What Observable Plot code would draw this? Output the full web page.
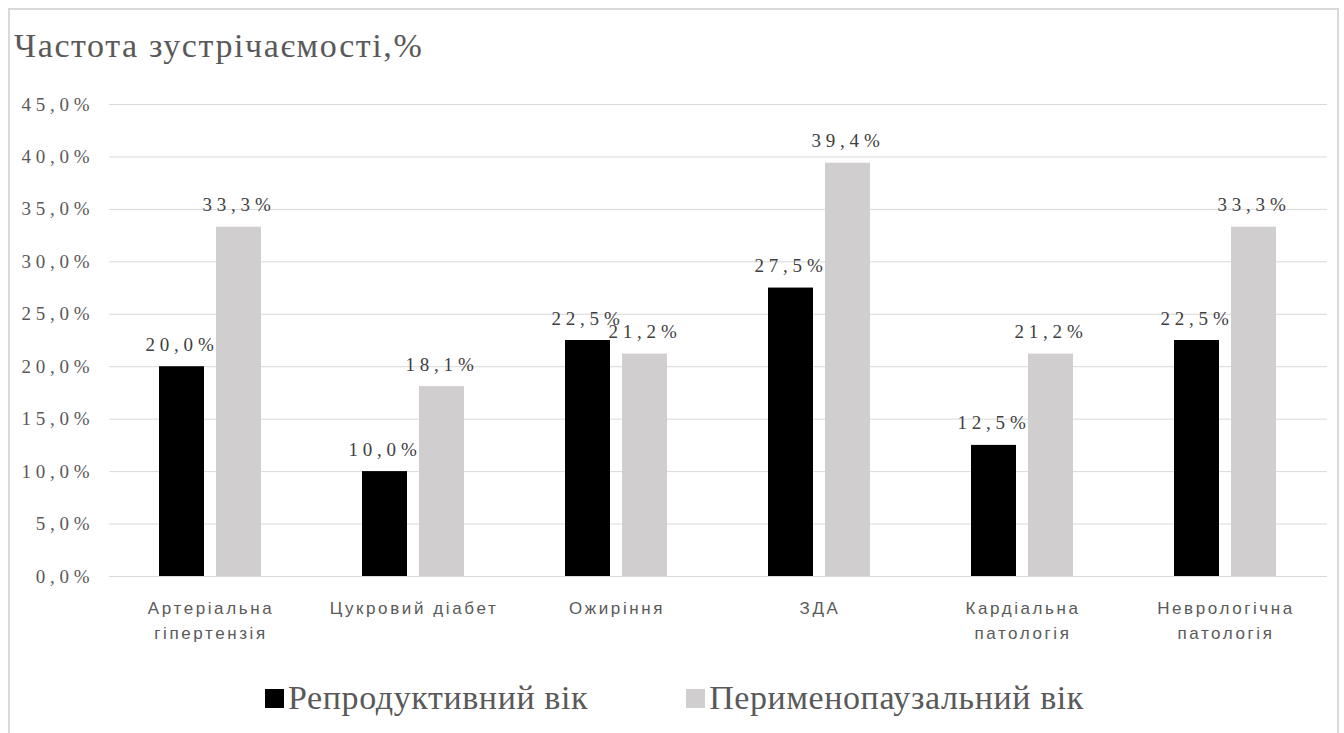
<!DOCTYPE html>
<html>
<head>
<meta charset="utf-8">
<script src="https://cdn.jsdelivr.net/npm/d3@7"></script>
<script src="https://cdn.jsdelivr.net/npm/@observablehq/plot@0.6"></script>
<style>
  html, body { margin: 0; padding: 0; background: #fff; }
  body { width: 1344px; height: 733px; position: relative; overflow: hidden; }
  #frame {
    position: absolute; left: 8px; top: 8px; width: 1331px; height: 760px;
    border: 2px solid #d9d9d9; box-sizing: border-box;
  }
  #title {
    position: absolute; left: 14px; top: 27px;
    font-family: "Liberation Serif", "Times New Roman", serif;
    font-size: 34px; color: #595959; letter-spacing: 1.6px; white-space: nowrap;
  }
  #chart { position: absolute; left: 0; top: 80px; }
  #chart g[aria-label="y-axis tick label"] text {
    font-family: "Liberation Serif", "Times New Roman", serif; font-size: 19px; letter-spacing: 4.8px;
  }
  #chart text[aria-label="bar value"] {
    font-family: "Liberation Serif", "Times New Roman", serif; font-size: 19px; letter-spacing: 4.8px;
  }
  #chart text[aria-label="category label"] { letter-spacing: 2.6px; }
  #legend {
    position: absolute; left: 265px; top: 679px;
    display: flex; gap: 98px;
    font-family: "Liberation Serif", "Times New Roman", serif;
    font-size: 34px; color: #595959; letter-spacing: 0.6px;
  }
  #legend .item { display: flex; align-items: center; white-space: nowrap; }
  #legend .swatch { display: inline-block; width: 19px; height: 19px; margin-right: 4px; }
</style>
</head>
<body>
<div id="frame"></div>
<div id="title">Частота зустрічаємості,%</div>
<div id="chart"></div>
<div id="legend"></div>
<script>
// Conditions (x categories) and their two-line axis labels
const categories = [
  "Артеріальна гіпертензія",
  "Цукровий діабет",
  "Ожиріння",
  "ЗДА",
  "Кардіальна патологія",
  "Неврологічна патологія"
];
const categoryLabels = [
  "Артеріальна\nгіпертензія",
  "Цукровий діабет",
  "Ожиріння",
  "ЗДА",
  "Кардіальна\nпатологія",
  "Неврологічна\nпатологія"
];

// Age groups and their colours
const series = ["Репродуктивний вік", "Перименопаузальний вік"];
const seriesColors = ["#000000", "#d0cece"];

// Frequency of occurrence, %
const reproductive = [20.0, 10.0, 22.5, 27.5, 12.5, 22.5];
const perimenopausal = [33.3, 18.1, 21.2, 39.4, 21.2, 33.3];

// Y axis ticks
const yTicks = [0, 5, 10, 15, 20, 25, 30, 35, 40, 45];

const rows = [];
categories.forEach((c, i) => {
  rows.push({category: c, group: series[0], value: reproductive[i]});
  rows.push({category: c, group: series[1], value: perimenopausal[i]});
});
const labelRows = categories.map((c, i) => ({category: c, label: categoryLabels[i]}));

const fmt = v => v.toFixed(1).replace(".", ",") + "%";

const serif = "'Liberation Serif', 'Times New Roman', serif";

const chart = Plot.plot({
  width: 1344,
  height: 580,
  marginTop: 24,
  marginBottom: 84,
  marginLeft: 107,
  marginRight: 15,
  style: {background: "transparent", overflow: "visible"},
  fx: {domain: categories, padding: 0, axis: null, label: null},
  x: {domain: series, paddingInner: 0.207, paddingOuter: 0.859, axis: null},
  y: {domain: [0, 45], label: null, axis: null},
  color: {domain: series, range: seriesColors},
  marks: [
    Plot.ruleY(yTicks, {stroke: "#d9d9d9", strokeWidth: 1}),
    Plot.axisY({
      ticks: yTicks,
      tickFormat: fmt,
      tickSize: 0,
      tickPadding: 15,
      fontSize: 19,
      fontFamily: serif,
      fill: "#595959",
      label: null
    }),
    Plot.barY(rows, {fx: "category", x: "group", y: "value", fill: "group"}),
    Plot.text(rows, {
      fx: "category", x: "group", y: "value",
      text: d => fmt(d.value),
      lineAnchor: "bottom", dy: -16,
      fontSize: 19, fontFamily: serif, fill: "#404040",
      ariaLabel: () => "bar value"
    }),
    Plot.text(labelRows, {
      fx: "category",
      text: "label",
      frameAnchor: "bottom",
      lineAnchor: "top",
      lineHeight: 1.5,
      dy: 19,
      fontSize: 17,
      fontFamily: "'Liberation Sans Narrow', 'Liberation Sans', sans-serif",
      fill: "#595959",
      ariaLabel: () => "category label"
    })
  ]
});
document.getElementById("chart").appendChild(chart);

// Legend
const legend = document.getElementById("legend");
series.forEach((s, i) => {
  const item = document.createElement("div");
  item.className = "item";
  const sw = document.createElement("span");
  sw.className = "swatch";
  sw.style.background = seriesColors[i];
  item.appendChild(sw);
  item.appendChild(document.createTextNode(s));
  legend.appendChild(item);
});
</script>
</body>
</html>
